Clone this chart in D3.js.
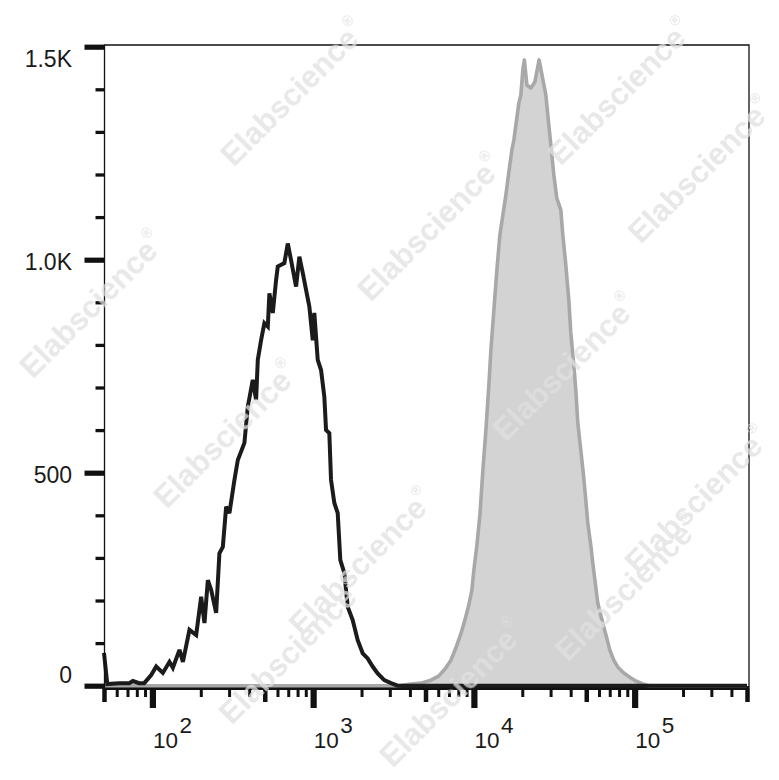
<!DOCTYPE html>
<html><head><meta charset="utf-8">
<script src="https://cdn.jsdelivr.net/npm/d3@7"></script>
<style>html,body{margin:0;padding:0;background:#fff;} svg{display:block;}</style>
</head><body>
<svg id="chart" width="779" height="780"></svg>
<script>
// ---------- data ----------
const blackX = [50, 52.4, 62.2, 71.8, 75.6, 82.8, 88.9, 98.3, 105.6, 116.2, 127.7, 134.1, 147.4, 154.8, 170.1, 187.2, 201.1, 210.8, 221.3, 232.0, 249.2, 261.2, 274.3, 287.6, 301.5, 323.8, 340.0, 373.6, 392.2, 421.3, 441.7, 452.6, 474.5, 497.5, 522.3, 534.4, 561.0, 588.1, 602.6, 662.2, 695.2, 728.8, 783.0, 820.9, 861.9, 903.5, 947.1, 994.3, 1017, 1068, 1120, 1174, 1203, 1261, 1292, 1355, 1422, 1476, 1563, 1641, 1762, 1893, 2034, 2184, 2346, 2520, 2770, 3050, 3357, 500000];
const blackCount = [77, 4, 6, 6, 11, 6, 6, 25, 45, 30, 56, 42, 84, 56, 131, 119, 209, 147, 248, 225, 171, 311, 326, 420, 405, 483, 530, 570, 655, 718, 671, 765, 811, 851, 843, 921, 875, 952, 984, 992, 1038, 999, 937, 1007, 969, 929, 890, 811, 875, 765, 741, 678, 600, 593, 483, 429, 405, 295, 265, 185, 154, 107, 76, 64, 45, 29, 13, 6, 0, 0];
const grayX = [50, 3420, 4060, 4685, 5405, 6061, 6699, 7196, 7729, 8303, 8792, 9310, 9718, 10000, 10440, 10900, 11376, 11875, 12397, 12758, 13318, 13902, 14508, 15148, 15810, 16503, 17228, 17728, 18504, 19044, 19597, 20165, 20605, 21354, 22617, 23936, 25454, 26730, 28025, 29250, 30102, 31427, 32810, 34734, 35748, 37309, 38946, 40080, 41838, 43051, 44306, 46238, 47929, 49672, 51112, 53353, 54899, 58972, 63340, 67076, 70027, 74165, 78524, 85560, 93244, 101580, 112280, 122360, 500000];
const grayCount = [0, 0, 4, 6, 13, 23, 42, 60, 89, 122, 154, 190, 225, 272, 330, 401, 506, 600, 706, 788, 882, 976, 1058, 1105, 1152, 1206, 1257, 1281, 1333, 1368, 1387, 1446, 1469, 1410, 1403, 1417, 1469, 1427, 1387, 1316, 1270, 1199, 1144, 1117, 1058, 988, 905, 828, 753, 694, 617, 553, 499, 436, 382, 330, 288, 194, 147, 112, 84, 60, 44, 30, 20, 11, 4, 0, 0];
const yMajorTicks = [0, 500, 1000, 1500];
const yTickLabels = ["0", "500", "1.0K", "1.5K"];
const xMajorTicks = [1e2, 1e3, 1e4, 1e5];
const xTickBase = "10";
const xTickExponents = ["2", "3", "4", "5"];
const watermarkText = "Elabscience";

(function () {
// ---------- layout ----------
const svg = d3.select("#chart");
const W = 779, H = 780;
svg.append("rect").attr("width", W).attr("height", H).attr("fill", "#fff");

const x = d3.scaleLog().domain([50, 5e5]).range([104, 747]);
const y = d3.scaleLinear().domain([0, 1500]).range([685.7, 46.7]);
const plotL = 104.5, plotR = 749, plotT = 45, axisY = 688;

const black = blackX.map((v, i) => ({v, c: blackCount[i]}));
const gray = grayX.map((v, i) => ({v, c: grayCount[i]}));

// x axis baseline (thick)
svg.append("line").attr("x1", plotL).attr("x2", plotR).attr("y1", axisY).attr("y2", axisY)
  .attr("stroke", "#111").attr("stroke-width", 4);

// gray filled histogram
svg.append("path").datum(gray)
  .attr("d", d3.area().x(d => x(d.v)).y0(y(0)).y1(d => y(d.c)))
  .attr("fill", "#d3d3d3");
svg.append("path").datum(gray)
  .attr("d", d3.line().x(d => x(d.v)).y(d => y(d.c)))
  .attr("fill", "none").attr("stroke", "#a8a8a8").attr("stroke-width", 3.6).attr("stroke-linejoin", "round");

// black outline histogram
svg.append("path").datum(black)
  .attr("d", d3.line().x(d => x(d.v)).y(d => y(d.c)))
  .attr("fill", "none").attr("stroke", "#1b1b1b").attr("stroke-width", 4).attr("stroke-linejoin", "miter").attr("stroke-miterlimit", 3);

// frame
svg.append("path")
  .attr("d", `M${plotL},${axisY} V${plotT} H${plotR} V${axisY}`)
  .attr("fill", "none").attr("stroke", "#111").attr("stroke-width", 1.3);

// y axis ticks
const yMinor = d3.range(100, 1500, 100).filter(v => v % 500 !== 0);
const gyMinor = svg.append("g").attr("transform", `translate(${plotL},0)`)
  .call(d3.axisLeft(y).tickValues(yMinor).tickSize(9).tickFormat(""));
gyMinor.select(".domain").remove();
gyMinor.selectAll(".tick line").attr("stroke", "#111").attr("stroke-width", 3.3);
const gyMajor = svg.append("g").attr("transform", `translate(${plotL},0)`)
  .call(d3.axisLeft(y).tickValues(yMajorTicks).tickSize(20).tickFormat(""));
gyMajor.select(".domain").remove();
gyMajor.selectAll(".tick line").attr("stroke", "#111").attr("stroke-width", 5.2);

svg.append("g").selectAll("text").data(yMajorTicks).join("text")
  .attr("x", 72)
  .attr("y", (d, i) => y(d) + (i === 0 ? -10.5 : i === yMajorTicks.length - 1 ? 12.5 : 2.5))
  .attr("text-anchor", "end").attr("dominant-baseline", "central")
  .attr("font-family", "'Liberation Sans', Arial, sans-serif").attr("font-size", 23)
  .attr("fill", "#1a1a1a")
  .text((d, i) => yTickLabels[i]);

// x axis ticks
const xAll = [];
for (let e = 1; e <= 5; e++) for (let m = 1; m <= 9; m++) {
  const v = m * Math.pow(10, e);
  if (v >= 50 && v <= 5e5) xAll.push(v);
}
const xMinor = xAll.filter(v => !xMajorTicks.includes(v) && !String(v).startsWith("5"));
const xMid = xAll.filter(v => String(v).startsWith("5"));
function xTicks(vals, size, width) {
  const g = svg.append("g").attr("transform", `translate(0,${axisY})`)
    .call(d3.axisBottom(x).tickValues(vals).tickSize(size).tickFormat(""));
  g.select(".domain").remove();
  g.selectAll(".tick line").attr("stroke", "#111").attr("stroke-width", width);
}
xTicks(xMinor, 9, 3);
xTicks(xMid, 14, 4.5);
xTicks(xMajorTicks, 20, 6.2);

const xl = svg.append("g").selectAll("text").data(xMajorTicks).join("text")
  .attr("x", d => x(d) + 0.5).attr("y", 748)
  .attr("font-family", "'Liberation Sans', Arial, sans-serif").attr("font-size", 22.5)
  .attr("fill", "#1a1a1a");
xl.append("tspan").text(xTickBase);
xl.append("tspan").attr("dx", 1.5).attr("dy", -15).text((d, i) => xTickExponents[i]);

// watermarks (kept fully inside the canvas)
const wmCenters = [[293,93],[620,92],[700,170],[92,305],[430,228],[226,435],[565,368],[361,562],[627,588],[697,500],[291,651],[452,694]];
const wm = svg.append("g").attr("pointer-events", "none").attr("opacity", 0.75);
wmCenters.forEach(([cx, cy]) => {
  const t = wm.append("text")
    .attr("transform", `translate(${cx},${cy}) rotate(-45)`)
    .attr("text-anchor", "middle").attr("dominant-baseline", "central")
    .attr("font-family", "'Liberation Sans', Arial, sans-serif").attr("font-weight", "bold")
    .attr("font-size", 31).attr("fill", "#e0e0e0");
  t.append("tspan").text(watermarkText);
  t.append("tspan").attr("font-size", 14).attr("dy", -12).text("®");
});
})();
</script>
</body></html>
